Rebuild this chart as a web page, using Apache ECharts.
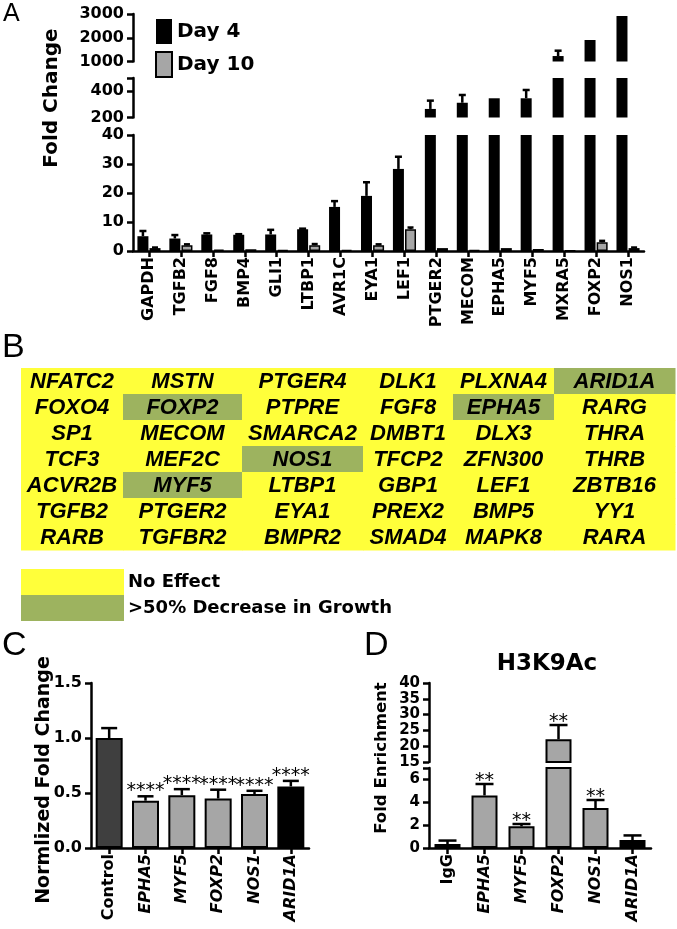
<!DOCTYPE html>
<html>
<head>
<meta charset="utf-8">
<script src="https://cdn.jsdelivr.net/npm/echarts@6/dist/echarts.min.js"></script>
<style>
  html, body { margin: 0; padding: 0; background: #fff; }
  #main { width: 677px; height: 929px; }
</style>
</head>
<body>
<div id="main"></div>
<script>
// ---------- A: fold change at day 4 / day 10
const genesA = ['GAPDH', 'TGFB2', 'FGF8', 'BMP4', 'GLI1', 'LTBP1', 'AVR1C', 'EYA1', 'LEF1',
  'PTGER2', 'MECOM', 'EPHA5', 'MYF5', 'MXRA5', 'FOXP2', 'NOS1'];
const day4 = [5.1, 4.3, 5.7, 5.6, 5.7, 7.5, 15.2, 19, 28.3, 265, 312, 346, 346, 1230, 1905, 2915];
const day4Err = [1.8, 1.2, 0.4, 0.2, 1.6, 0.2, 2.0, 4.7, 4.2, 63, 59, 0, 63, 225, 0, 0];
const day10 = [1.0, 2.0, 0.5, 0.6, 0.3, 2.0, 0.4, 2.0, 7.5, 1.0, 0.3, 1.0, 0.7, 0.2, 3.0, 1.0];
const day10Err = [0.2, 0.3, 0, 0, 0, 0.4, 0, 0.3, 0.6, 0, 0, 0, 0, 0, 0.5, 0.2];
// broken y axis: top, middle, bottom pieces
const segA = [
  { min: 1000, max: 3000, ticks: [1000, 2000, 3000], labels: [1000, 2000, 3000] },
  { min: 200, max: 500, ticks: [200, 400, 500], labels: [200, 400] },
  { min: 0, max: 40, ticks: [0, 10, 20, 30, 40], labels: [0, 10, 20, 30, 40] }
];

// ---------- B: screen table
const tableRows = [
  ['NFATC2', 'MSTN', 'PTGER4', 'DLK1', 'PLXNA4', 'ARID1A'],
  ['FOXO4', 'FOXP2', 'PTPRE', 'FGF8', 'EPHA5', 'RARG'],
  ['SP1', 'MECOM', 'SMARCA2', 'DMBT1', 'DLX3', 'THRA'],
  ['TCF3', 'MEF2C', 'NOS1', 'TFCP2', 'ZFN300', 'THRB'],
  ['ACVR2B', 'MYF5', 'LTBP1', 'GBP1', 'LEF1', 'ZBTB16'],
  ['TGFB2', 'PTGER2', 'EYA1', 'PREX2', 'BMP5', 'YY1'],
  ['RARB', 'TGFBR2', 'BMPR2', 'SMAD4', 'MAPK8', 'RARA']
];
const growthHits = ['ARID1A', 'FOXP2', 'EPHA5', 'NOS1', 'MYF5'];
const effectLabels = ['No Effect', '>50% Decrease in Growth'];

// ---------- C: normalized fold change
const catsC = ['Control', 'EPHA5', 'MYF5', 'FOXP2', 'NOS1', 'ARID1A'];
const valsC = [1.0, 0.43, 0.48, 0.45, 0.49, 0.56];
const errC = [0.09, 0.04, 0.055, 0.08, 0.03, 0.05];
const starsC = ['', '****', '****', '****', '****', '****'];
const ticksC = [0, 0.5, 1.0, 1.5];

// ---------- D: H3K9Ac ChIP
const catsD = ['IgG', 'EPHA5', 'MYF5', 'FOXP2', 'NOS1', 'ARID1A'];
const valsD = [0.35, 4.6, 1.9, 22.2, 3.5, 0.7];
const errD = [0.3, 1.0, 0.2, 4.5, 0.7, 0.4];
const starsD = ['', '**', '**', '**', '**', ''];
const segD = [
  { min: 15, max: 40, ticks: [15, 20, 25, 30, 35, 40], labels: [15, 20, 25, 30, 35, 40] },
  { min: 0, max: 7, ticks: [0, 2, 4, 6, 7], labels: [0, 2, 4, 6] }
];

// ---------- layout / styles
const FONT = 'DejaVu Sans';
const GREY = '#a6a6a6';
const YELLOW = '#ffff3a';
const GREEN = '#9db35f';
const colEdges = [0, 102, 221, 342, 432, 533, 654]; // table column borders, px from table left
const fillC = ['#3f3f3f', GREY, GREY, GREY, GREY, '#000'];
const fillD = ['#505050', GREY, GREY, GREY, GREY, '#000'];
const BW_A = 11;

const axLine = { show: true, lineStyle: { color: '#000', width: 2.5 } };
const axTick = { show: true, length: 6, lineStyle: { color: '#000', width: 2.5 } };
const tickFont = { fontFamily: FONT, fontWeight: 'bold', color: '#000' };

function valueAxis(gi, seg, size) {
  return {
    type: 'value', gridIndex: gi, min: seg.min, max: seg.max,
    axisLine: axLine,
    axisTick: Object.assign({}, axTick, { customValues: seg.ticks }),
    axisLabel: Object.assign({ fontSize: size, margin: 9, customValues: seg.labels, formatter: v => String(v) }, tickFont),
    splitLine: { show: false }
  };
}

function hiddenCat(gi, cats) {
  return { type: 'category', gridIndex: gi, data: cats, show: false };
}

// vertical error bar (upward only), clipped to one axis piece
function errorBars(gi, seg, vals, errs, offset, capHalf) {
  return {
    type: 'custom', xAxisIndex: gi, yAxisIndex: gi, silent: true, z: 5,
    data: vals.map((v, i) => [i, v, v + errs[i]]),
    renderItem(params, api) {
      const i = api.value(0), v = api.value(1), t = api.value(2);
      const lo = Math.max(v, seg.min), hi = Math.min(t, seg.max);
      if (t <= v || lo >= hi) return { type: 'group', children: [] };
      const p0 = api.coord([i, lo]), p1 = api.coord([i, hi]);
      const x = p0[0] + offset;
      const st = { stroke: '#000', lineWidth: 2.5 };
      const ch = [{ type: 'line', shape: { x1: x, y1: p0[1], x2: x, y2: p1[1] }, style: st }];
      if (t <= seg.max) ch.push({ type: 'line', shape: { x1: x - capHalf, y1: p1[1], x2: x + capHalf, y2: p1[1] }, style: st });
      return { type: 'group', children: ch };
    }
  };
}

function starMarks(gi, seg, vals, errs, marks, lift) {
  return {
    type: 'custom', xAxisIndex: gi, yAxisIndex: gi, silent: true, z: 6,
    data: vals.map((v, i) => [i, v + errs[i]]),
    renderItem(params, api) {
      const i = api.value(0), t = api.value(1);
      if (!marks[i] || t < seg.min || t > seg.max) return { type: 'group', children: [] };
      const p = api.coord([i, t]);
      return {
        type: 'text',
        style: { text: marks[i], x: p[0], y: p[1] - lift, align: 'center', verticalAlign: 'middle',
          fontFamily: FONT, fontSize: 19, fill: '#000' }
      };
    }
  };
}

const italicRich = { i: { fontStyle: 'italic', fontFamily: FONT, fontWeight: 'bold', fontSize: 16, color: '#000' } };
function geneLabel(v) { return (v === 'Control' || v === 'IgG') ? v : '{i|' + v + '}'; }

const chart = echarts.init(document.getElementById('main'), null, { renderer: 'canvas' });

const grids = [
  { left: 133, top: 14, width: 511, height: 47.5 },   // 0 A top
  { left: 133, top: 78, width: 511, height: 39.5 },   // 1 A middle
  { left: 133, top: 135, width: 511, height: 116 },   // 2 A bottom
  { left: 21, top: 368, width: 654, height: 182 },    // 3 B table
  { left: 91, top: 683, width: 218, height: 165 },    // 4 C
  { left: 429, top: 683, width: 222, height: 79 },    // 5 D top
  { left: 429, top: 768, width: 222, height: 80 }     // 6 D bottom
];

const xAxes = [
  hiddenCat(0, genesA),
  hiddenCat(1, genesA),
  {
    type: 'category', gridIndex: 2, data: genesA,
    axisLine: axLine, axisTick: Object.assign({ alignWithLabel: true }, axTick),
    axisLabel: Object.assign({ rotate: 90, interval: 0, fontSize: 16, margin: 6 }, tickFont)
  },
  { type: 'value', gridIndex: 3, min: 0, max: 654, show: false },
  {
    type: 'category', gridIndex: 4, data: catsC,
    axisLine: axLine, axisTick: Object.assign({ alignWithLabel: true }, axTick),
    axisLabel: Object.assign({ rotate: 90, interval: 0, fontSize: 16, margin: 6, formatter: geneLabel, rich: italicRich }, tickFont)
  },
  hiddenCat(5, catsD),
  {
    type: 'category', gridIndex: 6, data: catsD,
    axisLine: axLine, axisTick: Object.assign({ alignWithLabel: true }, axTick),
    axisLabel: Object.assign({ rotate: 90, interval: 0, fontSize: 16, margin: 6, formatter: geneLabel, rich: italicRich }, tickFont)
  }
];

const yAxes = [
  valueAxis(0, segA[0], 16),
  valueAxis(1, segA[1], 16),
  valueAxis(2, segA[2], 16),
  { type: 'category', gridIndex: 3, data: tableRows.map((r, i) => i), inverse: true, show: false },
  Object.assign(valueAxis(4, { min: 0, max: 1.5, ticks: ticksC, labels: ticksC }, 16), {
    axisLabel: Object.assign({ fontSize: 16, margin: 9, customValues: ticksC, formatter: v => v.toFixed(1) }, tickFont)
  }),
  valueAxis(5, segD[0], 15),
  valueAxis(6, segD[1], 15)
];

const series = [];
// panel A bars + error bars in each axis piece
segA.forEach((seg, gi) => {
  series.push({
    name: 'Day 4', type: 'bar', xAxisIndex: gi, yAxisIndex: gi, data: day4,
    barWidth: BW_A, barGap: '10%', itemStyle: { color: '#000' }, clip: true, silent: true
  });
  series.push({
    name: 'Day 10', type: 'bar', xAxisIndex: gi, yAxisIndex: gi, data: day10,
    barWidth: BW_A, barGap: '10%', itemStyle: { color: GREY, borderColor: '#000', borderWidth: 1.5 },
    clip: true, silent: true
  });
  series.push(errorBars(gi, seg, day4, day4Err, -BW_A * 0.55, 3.5));
  series.push(errorBars(gi, seg, day10, day10Err, BW_A * 0.55, 3));
});

// panel B table cells
const cells = [];
tableRows.forEach((row, r) => row.forEach((g, c) => cells.push([c, r, growthHits.includes(g) ? 1 : 0, g])));
series.push({
  type: 'custom', xAxisIndex: 3, yAxisIndex: 3, silent: true,
  data: cells,
  renderItem(params, api) {
    const c = api.value(0), r = api.value(1), hit = api.value(2);
    const name = cells[params.dataIndex][3];
    const a = api.coord([colEdges[c], r]), b = api.coord([colEdges[c + 1], r]);
    const h = api.size([0, 1])[1];
    return {
      type: 'group', children: [
        { type: 'rect', shape: { x: a[0], y: a[1] - h / 2, width: b[0] - a[0] + 0.5, height: h + 0.5 },
          style: { fill: hit ? GREEN : YELLOW } },
        { type: 'text', style: { text: name, x: (a[0] + b[0]) / 2, y: a[1] + 1, align: 'center', verticalAlign: 'middle',
          fontFamily: 'Liberation Sans', fontWeight: 'bold', fontStyle: 'italic', fontSize: 22, fill: '#000' } }
      ]
    };
  }
});

// panel C
series.push({
  type: 'bar', xAxisIndex: 4, yAxisIndex: 4, barWidth: 27, silent: true,
  data: valsC.map((v, i) => ({ value: v, itemStyle: { color: fillC[i], borderColor: '#000', borderWidth: 2 } }))
});
series.push(errorBars(4, { min: 0, max: 1.5 }, valsC, errC, 0, 8));
series.push(starMarks(4, { min: 0, max: 1.5 }, valsC, errC, starsC, 5));

// panel D, two axis pieces
segD.forEach((seg, k) => {
  const gi = 5 + k;
  series.push({
    type: 'bar', xAxisIndex: gi, yAxisIndex: gi, barWidth: 26, clip: true, silent: true,
    data: valsD.map((v, i) => ({ value: v, itemStyle: { color: fillD[i], borderColor: '#000', borderWidth: 2 } }))
  });
  series.push(errorBars(gi, seg, valsD, errD, 0, 9));
  series.push(starMarks(gi, seg, valsD, errD, starsD, 3));
});

function letter(t, x, y, size) {
  return { type: 'text', left: x, top: y, style: { text: t, fontFamily: 'Liberation Sans', fontSize: size, fill: '#000' } };
}
function vTitle(t, x, y, size) {
  return { type: 'text', x: x, y: y, rotation: Math.PI / 2,
    style: { text: t, align: 'center', verticalAlign: 'middle', fontFamily: FONT, fontWeight: 'bold', fontSize: size, fill: '#000' } };
}

const graphic = [
  letter('A', 3, 2, 25),
  letter('B', 2, 331, 34),
  letter('C', 2, 629, 34),
  letter('D', 364, 629, 34),
  vTitle('Fold Change', 52, 98, 20),
  vTitle('Normlized Fold Change', 44, 780, 19),
  vTitle('Fold Enrichment', 382, 758, 16.5),
  { type: 'text', x: 547, y: 664, style: { text: 'H3K9Ac', align: 'center', verticalAlign: 'middle',
    fontFamily: FONT, fontWeight: 'bold', fontSize: 23, fill: '#000' } }
];
// legend of panel B
effectLabels.forEach((t, k) => {
  graphic.push({ type: 'rect', shape: { x: 21, y: 569 + k * 26, width: 103, height: 26 }, style: { fill: k ? GREEN : YELLOW } });
  graphic.push({ type: 'text', x: 128, y: 582 + k * 26, style: { text: t, verticalAlign: 'middle',
    fontFamily: FONT, fontWeight: 'bold', fontSize: 18, fill: '#000' } });
});

chart.setOption({
  animation: false,
  backgroundColor: '#fff',
  grid: grids,
  xAxis: xAxes,
  yAxis: yAxes,
  legend: {
    data: ['Day 4', 'Day 10'], orient: 'vertical', left: 150, top: 14, icon: 'rect',
    itemWidth: 16, itemHeight: 25, itemGap: 7, selectedMode: false,
    textStyle: { fontFamily: FONT, fontWeight: 'bold', fontSize: 20, color: '#000' }
  },
  graphic: graphic,
  series: series
});
</script>
</body>
</html>
